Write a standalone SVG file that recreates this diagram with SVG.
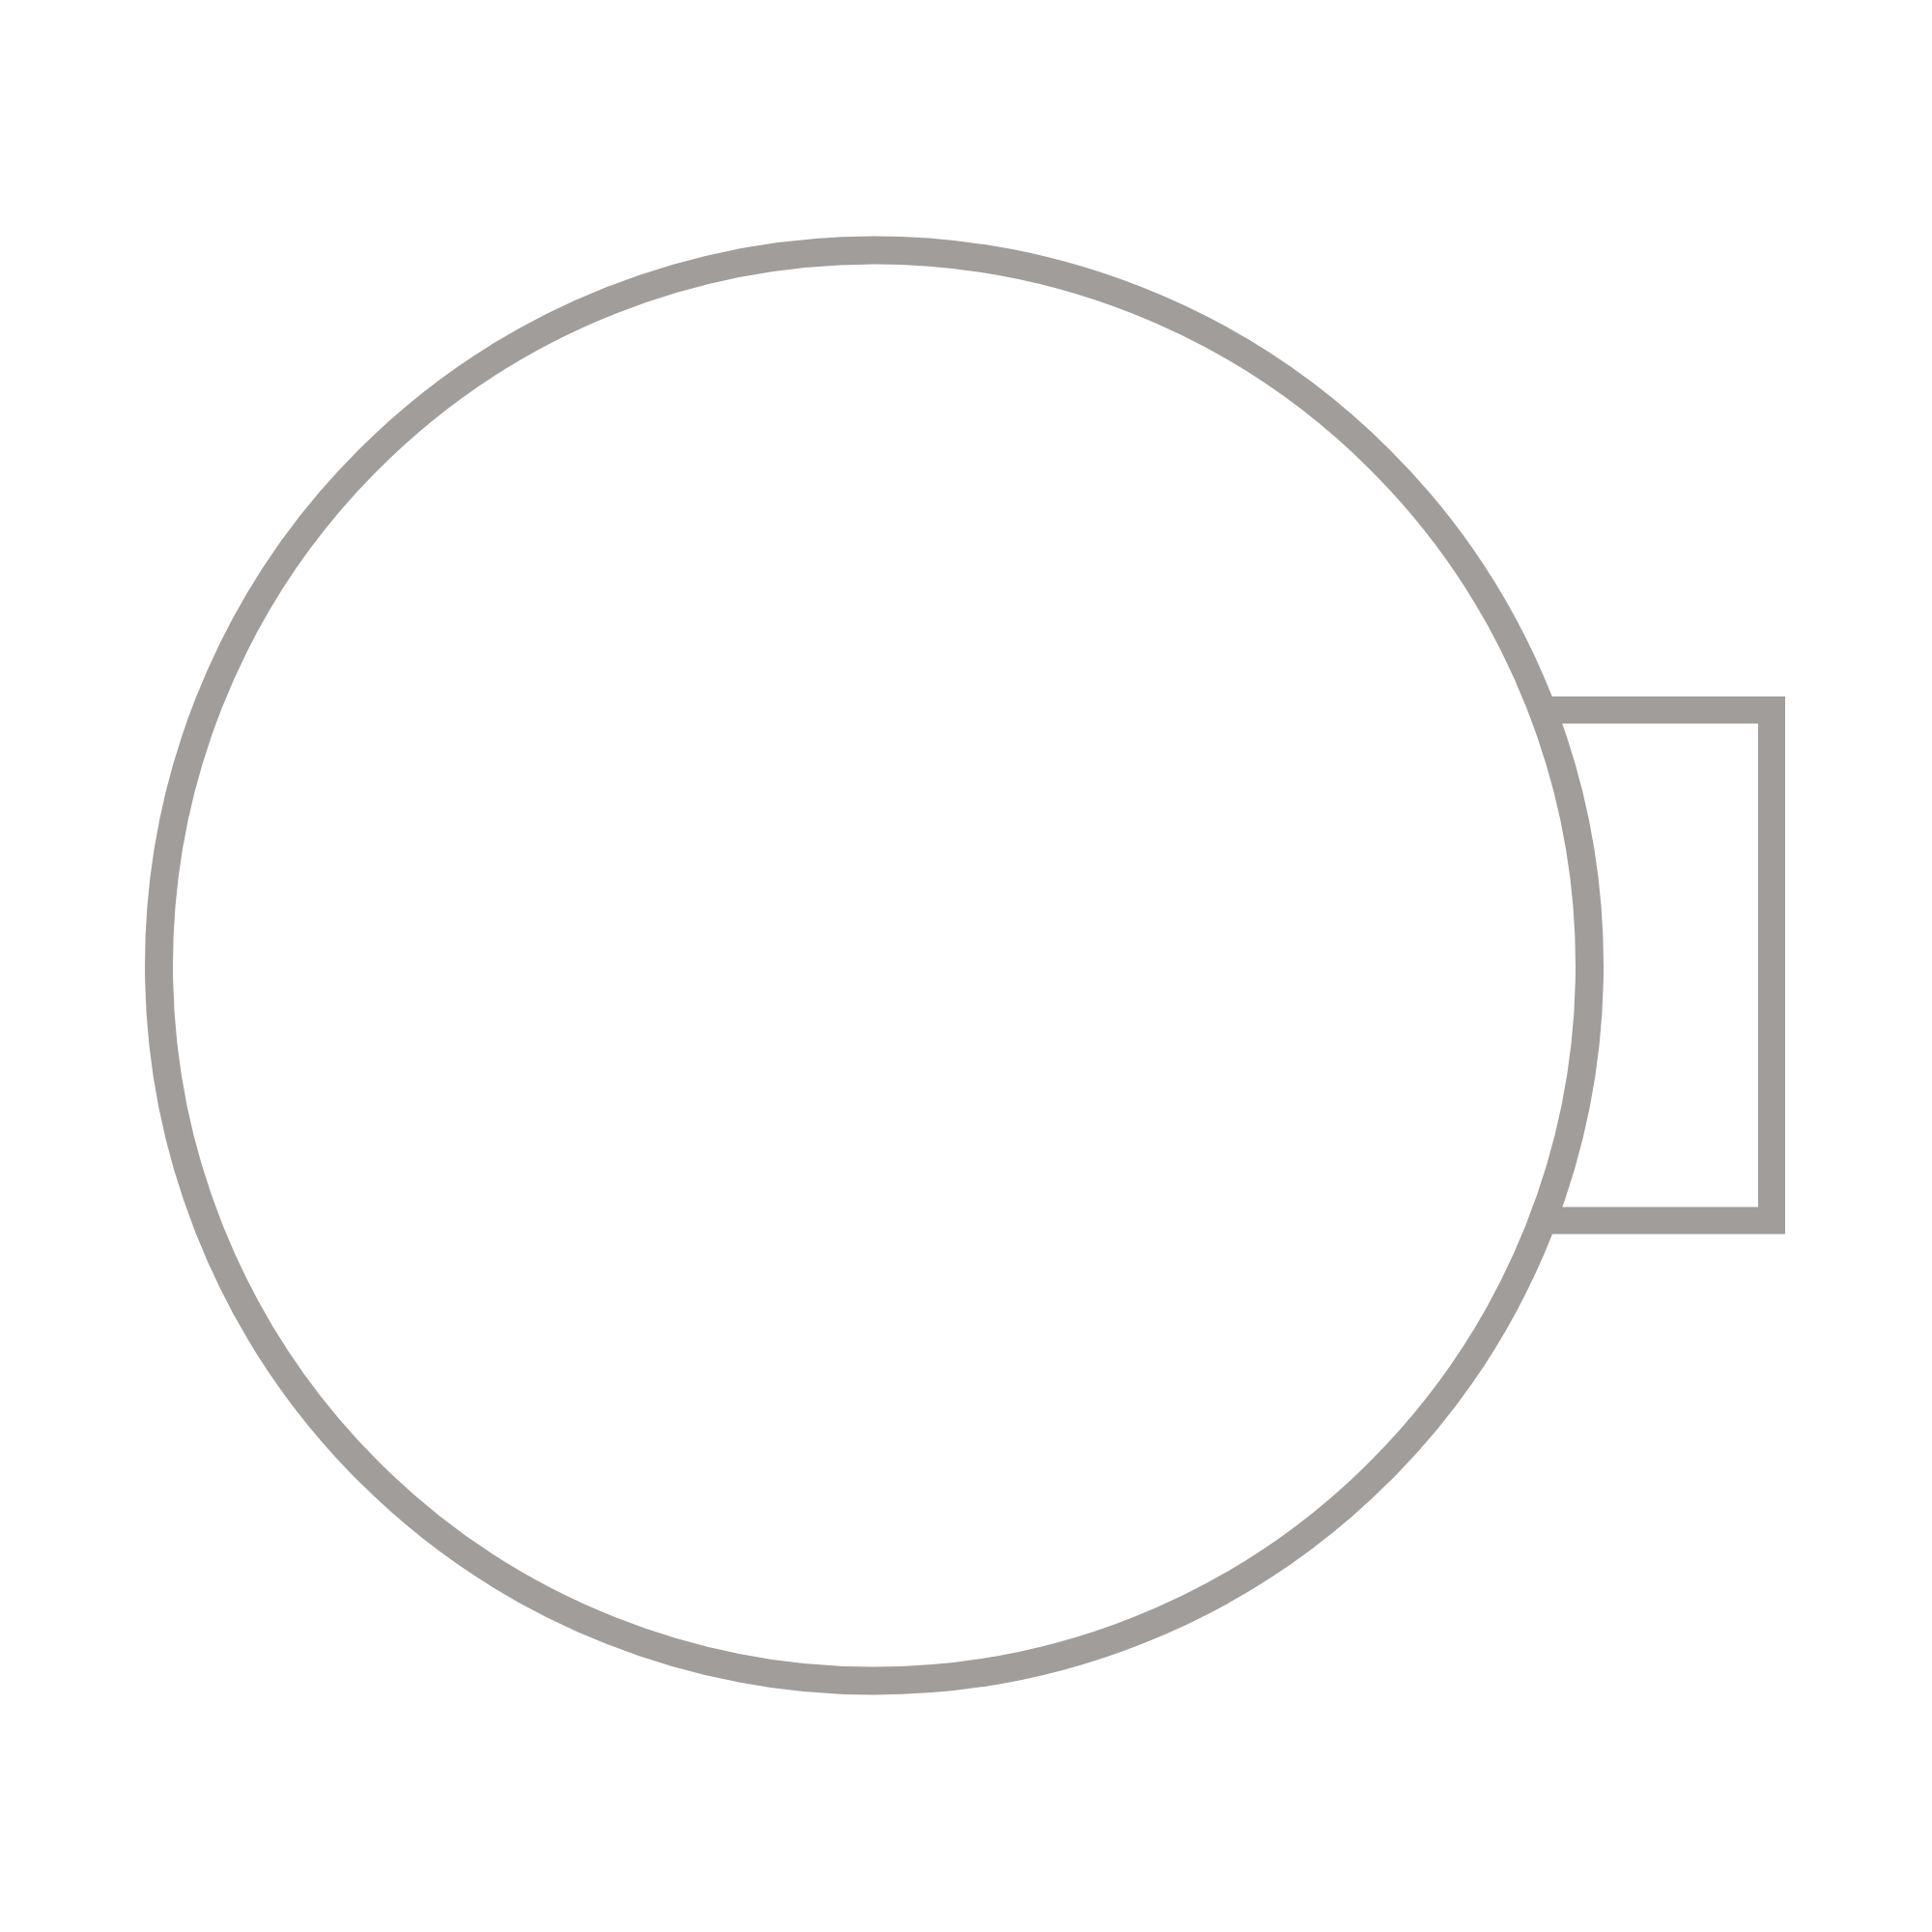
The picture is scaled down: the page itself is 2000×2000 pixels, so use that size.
<svg xmlns="http://www.w3.org/2000/svg" width="2000" height="2000" viewBox="0 0 2000 2000">
<style>
.ln{fill:none;stroke:#a09d9a;stroke-width:28;stroke-linejoin:miter}
.ci{fill:#ffffff;stroke:#a09d9a;stroke-width:29}
</style>
<rect x="0" y="0" width="2000" height="2000" fill="#ffffff"/>
<g id="tab">
<path class="ln" d="M1590,735 L1834,735 L1834,1263.5 L1590,1263.5"/>
</g>
<g id="circle">
<circle class="ci" cx="905" cy="999.5" r="740.5"/>
</g>
</svg>
